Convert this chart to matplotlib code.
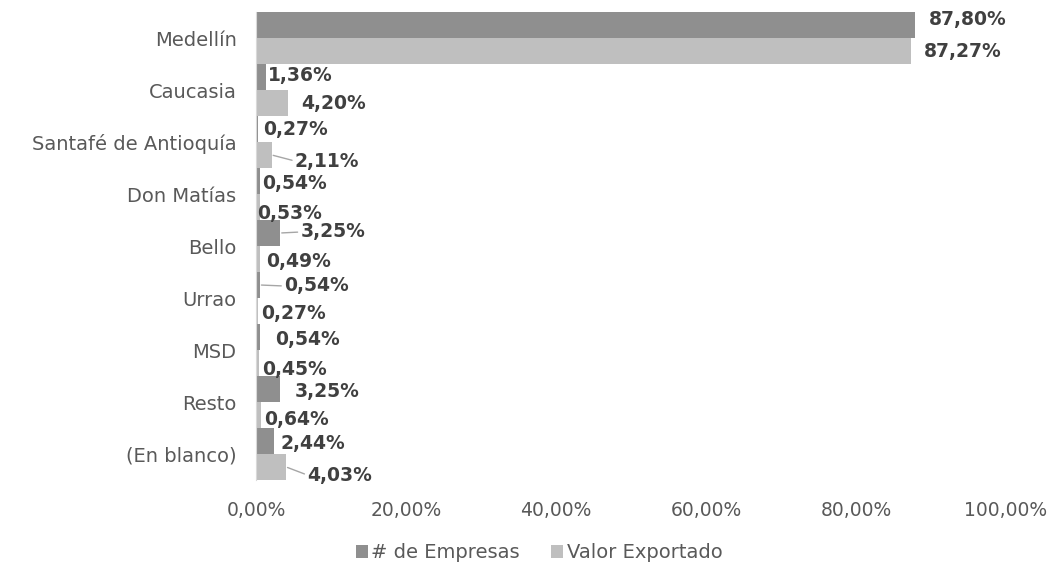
import numpy as np
import matplotlib
matplotlib.use("Agg")
import matplotlib.pyplot as plt

plt.rcParams['font.family'] = ['DejaVu Sans']

# datos
municipios = ['Medellín', 'Caucasia', 'Santafé de Antioquía', 'Don Matías', 'Bello',
              'Urrao', 'MSD', 'Resto', '(En blanco)']
empresas = [87.80, 1.36, 0.27, 0.54, 3.25, 0.54, 0.54, 3.25, 2.44]
valor_exportado = [87.27, 4.20, 2.11, 0.53, 0.49, 0.27, 0.45, 0.64, 4.03]
ticks = [0, 20, 40, 60, 80, 100]

# desplazamiento de etiquetas (px) respecto al extremo de cada barra
off_emp = [(14, -5), (2, -1), (5, 0), (2, 2), (20, -1), (24, 1), (15, 2), (14, 3), (6, 3)]
off_val = [(13, 0), (14, 1), (23, 6), (-3, 7), (6, 3), (3, 3), (3, 6), (3, 5), (21, 8)]
leader_emp = [False, False, False, False, True, True, False, False, False]
leader_val = [False, False, True, False, False, False, False, False, True]

c_emp = '#8f8f8f'
c_val = '#bfbfbf'
c_txt = '#404040'
c_lbl = '#595959'

fig = plt.figure(figsize=(10.47, 5.69), dpi=100)
ax = fig.add_axes([256 / 1047, 1 - 480 / 569, 750 / 1047, 468 / 569])

y = np.arange(len(municipios))
h = 0.5
ax.barh(y - h / 2, empresas, height=h, color=c_emp, label='# de Empresas')
ax.barh(y + h / 2, valor_exportado, height=h, color=c_val, label='Valor Exportado')

def etiquetar(vals, ys, offs, leaders):
    for v, yy, (dx, dy), ld in zip(vals, ys, offs, leaders):
        txt = f'{v:.2f}%'.replace('.', ',')
        kw = {}
        if ld:
            kw['arrowprops'] = dict(arrowstyle='-', color='#a6a6a6', lw=1,
                                    shrinkA=0, shrinkB=1, relpos=(0, 0.5))
        ax.annotate(txt, xy=(v, yy), xytext=(dx, -dy), textcoords='offset pixels',
                    ha='left', va='center', fontsize=13.5, fontweight='bold',
                    color=c_txt, **kw)

etiquetar(empresas, y - h / 2, off_emp, leader_emp)
etiquetar(valor_exportado, y + h / 2, off_val, leader_val)

ax.set_xlim(0, 100)
ax.set_ylim(len(municipios) - 0.5, -0.5)
ax.set_yticks(y)
ax.set_yticklabels(municipios, fontsize=14, color=c_lbl)
ax.set_xticks(ticks)
ax.set_xticklabels([f'{t:.2f}%'.replace('.', ',') for t in ticks], fontsize=13.5, color=c_lbl)
ax.tick_params(axis='both', length=0)
ax.tick_params(axis='y', pad=14)
ax.tick_params(axis='x', pad=15)
for s in ['top', 'right', 'bottom']:
    ax.spines[s].set_visible(False)
ax.spines['left'].set_color('#d9d9d9')

fig.legend(loc='center', bbox_to_anchor=(0.515, 1 - 553 / 569), ncol=2, frameon=False,
           fontsize=14, handlelength=0.6, handleheight=0.6, handletextpad=0.2,
           columnspacing=1.6, labelcolor=c_lbl)

fig.savefig('out.png', dpi=100)
